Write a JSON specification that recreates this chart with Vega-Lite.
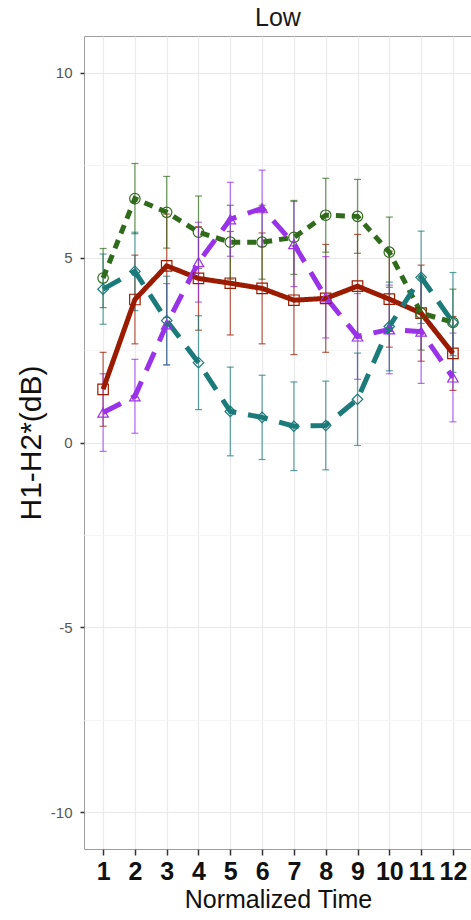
{
  "$schema": "https://vega.github.io/schema/vega-lite/v6.json",
  "autosize": {"type": "none"},
  "padding": {"left": 84, "top": 36, "right": 0, "bottom": 71},
  "width": 388,
  "height": 813,
  "background": "white",
  "title": {"text": "Low", "fontSize": 25, "fontWeight": "normal", "color": "#1a1a1a", "offset": 5, "font": "Liberation Sans"},
  "config": {
    "view": {"stroke": "#9e9e9e", "strokeWidth": 1},
    "font": "Liberation Sans"
  },
  "data": {"values": [
    {"t": 1, "g": "A", "m": 1.44, "lo": 0.44, "hi": 2.44},
    {"t": 2, "g": "A", "m": 3.87, "lo": 2.67, "hi": 5.07},
    {"t": 3, "g": "A", "m": 4.78, "lo": 3.38, "hi": 6.18},
    {"t": 4, "g": "A", "m": 4.44, "lo": 3.04, "hi": 5.84},
    {"t": 5, "g": "A", "m": 4.31, "lo": 2.91, "hi": 5.71},
    {"t": 6, "g": "A", "m": 4.17, "lo": 2.67, "hi": 5.67},
    {"t": 7, "g": "A", "m": 3.85, "lo": 2.38, "hi": 5.32},
    {"t": 8, "g": "A", "m": 3.9, "lo": 2.44, "hi": 5.36},
    {"t": 9, "g": "A", "m": 4.23, "lo": 2.83, "hi": 5.63},
    {"t": 10, "g": "A", "m": 3.88, "lo": 2.58, "hi": 5.18},
    {"t": 11, "g": "A", "m": 3.5, "lo": 2.2, "hi": 4.8},
    {"t": 12, "g": "A", "m": 2.41, "lo": 1.41, "hi": 3.41},
    {"t": 1, "g": "B", "m": 4.45, "lo": 3.65, "hi": 5.25},
    {"t": 2, "g": "B", "m": 6.6, "lo": 5.65, "hi": 7.55},
    {"t": 3, "g": "B", "m": 6.23, "lo": 5.26, "hi": 7.2},
    {"t": 4, "g": "B", "m": 5.69, "lo": 4.71, "hi": 6.67},
    {"t": 5, "g": "B", "m": 5.42, "lo": 4.42, "hi": 6.42},
    {"t": 6, "g": "B", "m": 5.42, "lo": 4.42, "hi": 6.42},
    {"t": 7, "g": "B", "m": 5.55, "lo": 4.55, "hi": 6.55},
    {"t": 8, "g": "B", "m": 6.15, "lo": 5.15, "hi": 7.15},
    {"t": 9, "g": "B", "m": 6.12, "lo": 5.12, "hi": 7.12},
    {"t": 10, "g": "B", "m": 5.15, "lo": 4.2, "hi": 6.1},
    {"t": 11, "g": "B", "m": 3.5, "lo": 2.5, "hi": 4.5},
    {"t": 12, "g": "B", "m": 3.25, "lo": 2.35, "hi": 4.15},
    {"t": 1, "g": "C", "m": 0.81, "lo": -0.24, "hi": 1.86},
    {"t": 2, "g": "C", "m": 1.25, "lo": 0.25, "hi": 2.25},
    {"t": 3, "g": "C", "m": 3.2, "lo": 2.1, "hi": 4.3},
    {"t": 4, "g": "C", "m": 4.88, "lo": 3.8, "hi": 5.96},
    {"t": 5, "g": "C", "m": 6.04, "lo": 5.04, "hi": 7.04},
    {"t": 6, "g": "C", "m": 6.34, "lo": 5.31, "hi": 7.37},
    {"t": 7, "g": "C", "m": 5.37, "lo": 4.22, "hi": 6.52},
    {"t": 8, "g": "C", "m": 3.93, "lo": 2.83, "hi": 5.03},
    {"t": 9, "g": "C", "m": 2.87, "lo": 1.71, "hi": 4.03},
    {"t": 10, "g": "C", "m": 3.06, "lo": 1.86, "hi": 4.26},
    {"t": 11, "g": "C", "m": 3.0, "lo": 1.6, "hi": 4.4},
    {"t": 12, "g": "C", "m": 1.76, "lo": 0.56, "hi": 2.96},
    {"t": 1, "g": "D", "m": 4.15, "lo": 3.2, "hi": 5.1},
    {"t": 2, "g": "D", "m": 4.63, "lo": 3.57, "hi": 5.69},
    {"t": 3, "g": "D", "m": 3.3, "lo": 2.1, "hi": 4.5},
    {"t": 4, "g": "D", "m": 2.16, "lo": 0.89, "hi": 3.43},
    {"t": 5, "g": "D", "m": 0.84, "lo": -0.36, "hi": 2.04},
    {"t": 6, "g": "D", "m": 0.68, "lo": -0.46, "hi": 1.82},
    {"t": 7, "g": "D", "m": 0.44, "lo": -0.76, "hi": 1.64},
    {"t": 8, "g": "D", "m": 0.46, "lo": -0.74, "hi": 1.66},
    {"t": 9, "g": "D", "m": 1.17, "lo": -0.08, "hi": 2.42},
    {"t": 10, "g": "D", "m": 3.14, "lo": 1.94, "hi": 4.34},
    {"t": 11, "g": "D", "m": 4.47, "lo": 3.22, "hi": 5.72},
    {"t": 12, "g": "D", "m": 3.25, "lo": 1.9, "hi": 4.6}
  ]},
  "encoding": {
    "x": {
      "field": "t", "type": "quantitative",
      "scale": {"domain": [0.4, 12.6], "nice": false, "zero": false},
      "axis": {
        "values": [1, 2, 3, 4, 5, 6, 7, 8, 9, 10, 11, 12],
        "title": "Normalized Time",
        "titleFontSize": 25, "titleFontWeight": "normal", "titleColor": "#111111", "titlePadding": 3,
        "labelFontSize": 25, "labelFontWeight": "bold", "labelColor": "#111111", "labelPadding": 4,
        "labelFlush": false, "labelOverlap": false,
        "tickColor": "#333333", "tickSize": 6, "tickWidth": 1.5,
        "domain": false,
        "gridColor": "#ebebeb", "gridWidth": 1.2
      }
    },
    "color": {
      "field": "g", "type": "nominal", "legend": null,
      "scale": {"domain": ["A", "B", "C", "D"], "range": ["#9b1b00", "#2f6b1a", "#9932e8", "#1b7a7a"]}
    }
  },
  "layer": [
    {
      "mark": {"type": "errorbar", "ticks": {"size": 7}, "thickness": 1.2, "opacity": 0.7},
      "encoding": {
        "y": {
          "field": "lo", "type": "quantitative",
          "scale": {"domain": [-11, 11], "nice": false, "zero": false},
          "axis": {
            "values": [-10, -7.5, -5, -2.5, 0, 2.5, 5, 7.5, 10],
            "labelExpr": "datum.value % 5 == 0 ? '' + datum.value : ''",
            "title": "H1-H2*(dB)",
            "titleFontSize": 30, "titleFontWeight": "normal", "titleColor": "#111111", "titlePadding": 4,
            "labelFontSize": 15, "labelColor": "#555555", "labelPadding": 8,
            "tickColor": "#333333", "tickSize": 4, "tickWidth": 1.5,
            "tickOpacity": {"condition": {"test": "datum.value % 5 != 0", "value": 0}, "value": 1},
            "gridColor": {"condition": {"test": "datum.value % 5 != 0", "value": "#f5f5f5"}, "value": "#e8e8e8"},
            "gridWidth": 1.2,
            "domain": false
          }
        },
        "y2": {"field": "hi"}
      }
    },
    {
      "mark": {"type": "line", "strokeWidth": 5},
      "encoding": {
        "y": {"field": "m", "type": "quantitative"},
        "strokeDash": {
          "field": "g", "type": "nominal", "legend": null,
          "scale": {"domain": ["A", "B", "C", "D"], "range": [[1, 0], [9, 7], [20, 12], [20, 12]]}
        }
      }
    },
    {
      "mark": {"type": "point", "filled": false, "strokeWidth": 1.2, "size": 110, "opacity": 1},
      "encoding": {
        "y": {"field": "m", "type": "quantitative"},
        "shape": {
          "field": "g", "type": "nominal", "legend": null,
          "scale": {"domain": ["A", "B", "C", "D"], "range": ["square", "circle", "triangle-up", "diamond"]}
        }
      }
    }
  ]
}
